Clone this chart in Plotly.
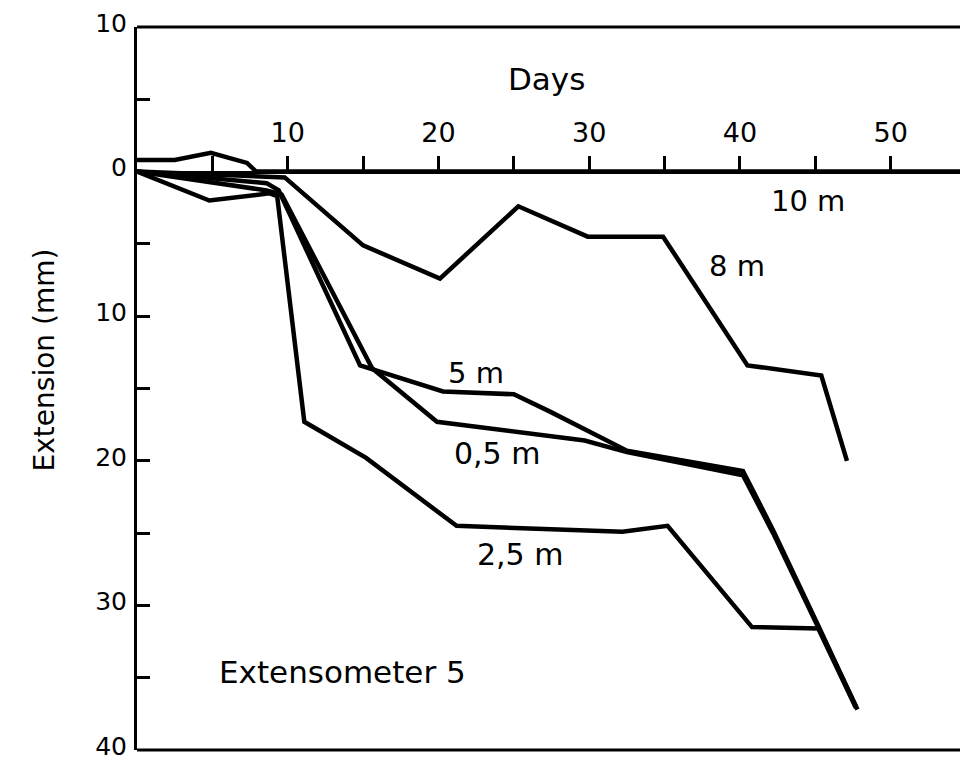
import plotly.graph_objects as go

# ---- data (days, extension in mm; positive = downward) ----
days_10m = [0, 2.5, 4.9, 7.3, 7.9, 54.6]
ext_10m = [-0.8, -0.8, -1.3, -0.6, 0.0, 0.0]

days_8m = [0, 8.1, 9.8, 15.0, 20.1, 25.3, 29.9, 34.9, 40.5, 45.4, 47.1]
ext_8m = [0, 0.3, 0.4, 5.1, 7.4, 2.4, 4.5, 4.5, 13.4, 14.1, 20.0]

days_5m = [0, 8.6, 9.4, 14.8, 20.3, 25.0, 27.4, 32.5, 40.2, 42.2, 45.2, 47.7]
ext_5m = [0, 0.8, 1.3, 13.4, 15.2, 15.4, 16.6, 19.3, 20.7, 24.8, 31.4, 37.0]

days_05m = [0, 8.6, 9.6, 15.6, 19.9, 27.4, 29.7, 32.5, 40.2, 42.2, 45.2, 47.8]
ext_05m = [0, 1.3, 1.6, 13.6, 17.3, 18.3, 18.6, 19.4, 21.0, 25.0, 31.6, 37.2]

days_25m = [0, 4.8, 8.8, 9.3, 11.1, 15.2, 21.2, 32.2, 35.2, 40.8, 45.2, 47.7]
ext_25m = [0, 2.0, 1.5, 1.7, 17.3, 19.8, 24.5, 24.9, 24.5, 31.5, 31.6, 37.1]

y_tickvals = [-10, -5, 0, 5, 10, 15, 20, 25, 30, 35, 40]
y_ticktext = ["10", "", "0", "", "10", "", "20", "", "30", "", "40"]
x_tickvals = [5, 10, 15, 20, 25, 30, 35, 40, 45, 50]
x_ticktext = ["", "10", "", "20", "", "30", "", "40", "", "50"]

FONT = "DejaVu Sans"

fig = go.Figure()
for dx, ey, name in [(days_10m, ext_10m, "10 m"), (days_8m, ext_8m, "8 m"),
                     (days_5m, ext_5m, "5 m"), (days_05m, ext_05m, "0,5 m"),
                     (days_25m, ext_25m, "2,5 m")]:
    fig.add_trace(go.Scatter(x=dx, y=ey, mode="lines", name=name,
                             line=dict(color="black", width=4.5),
                             showlegend=False, cliponaxis=False))

labels = [("10 m", 44.5, 2.0, 29), ("8 m", 39.8, 6.5, 29), ("5 m", 22.5, 13.9, 29),
          ("0,5 m", 23.9, 19.5, 30), ("2,5 m", 25.4, 26.5, 30),
          ("Extensometer 5", 13.6, 34.6, 31), ("Days", 27.2, -6.4, 31)]
annotations = []
for txt, ax_, ay_, fs in labels:
    annotations.append(dict(x=ax_, y=ay_, xref="x", yref="y", text=txt,
                            showarrow=False, xanchor="center", yanchor="middle",
                            font=dict(family=FONT, size=fs, color="black")))
annotations.append(dict(x=-0.112, y=13.0, xref="paper", yref="y",
                        text="Extension (mm)", textangle=-90, showarrow=False,
                        xanchor="center", yanchor="middle",
                        font=dict(family=FONT, size=28, color="black")))

shapes = [
    dict(type="line", xref="paper", yref="paper", x0=0, x1=1, y0=1, y1=1,
         line=dict(color="black", width=3)),
    dict(type="line", xref="paper", yref="paper", x0=0, x1=1, y0=0, y1=0,
         line=dict(color="black", width=3)),
]

fig.update_layout(
    width=960, height=762,
    margin=dict(l=137, r=0, t=27, b=12),
    paper_bgcolor="white", plot_bgcolor="white",
    annotations=annotations, shapes=shapes,
    xaxis=dict(range=[0, 54.6], side="top", anchor="free", position=0.8,
               showline=True, linecolor="black", linewidth=3,
               ticks="outside", ticklen=15, tickwidth=2.5, tickcolor="black",
               tickvals=x_tickvals, ticktext=x_ticktext,
               tickfont=dict(family=FONT, size=27, color="black"),
               ticklabelstandoff=3,
               showgrid=False, zeroline=False, automargin=False),
    yaxis=dict(range=[40, -10], domain=[0, 1],
               showline=True, linecolor="black", linewidth=3,
               ticks="inside", ticklen=13, tickwidth=2.5, tickcolor="black",
               tickvals=y_tickvals, ticktext=y_ticktext,
               tickfont=dict(family=FONT, size=25, color="black"),
               ticklabelstandoff=2, ticklabelshift=4, ticklabeloverflow="allow",
               showgrid=False, zeroline=False, automargin=False),
)

fig.write_html("out.html", config={"displayModeBar": False},
               post_script="document.body.style.margin='0';"
                           "document.body.style.overflow='hidden';")
